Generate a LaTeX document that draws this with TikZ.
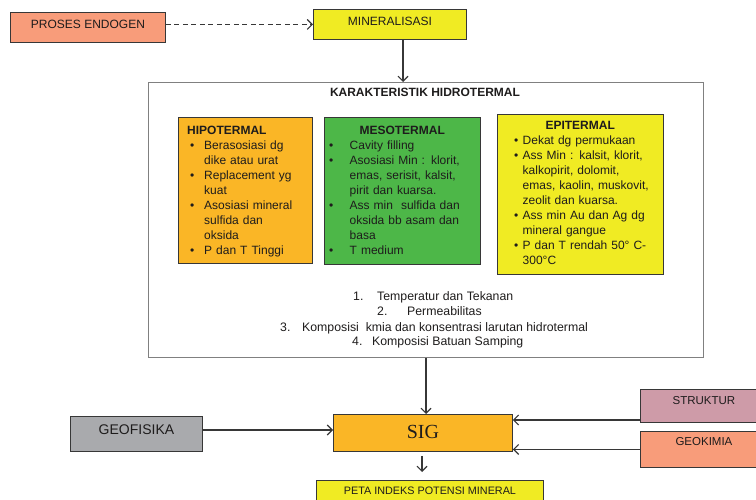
\documentclass[tikz,border=0pt]{standalone}
\usepackage{fontspec}
\setmainfont{Liberation Sans}
\newfontfamily\sigfont{Liberation Serif}
\usetikzlibrary{arrows.meta}
\definecolor{salmon}{RGB}{248,156,122}
\definecolor{yel}{RGB}{240,235,35}
\definecolor{orng}{RGB}{250,182,38}
\definecolor{grn}{RGB}{77,183,72}
\definecolor{pnk}{RGB}{206,155,168}
\definecolor{gry}{RGB}{169,170,173}
\definecolor{edge}{RGB}{55,55,55}
\definecolor{ink}{RGB}{30,28,28}
\newlength\bpos \newlength\tpos
\newcommand\bit[1]{\par\hangindent=\tpos\hangafter=1\noindent\makebox[\tpos][l]{\hspace{\bpos}\textbullet}#1}
\tikzset{
  box/.style={draw=edge, line width=0.9pt, anchor=north west, inner sep=0pt, text=ink},
  arr/.style={draw=edge, line width=1.1pt, -{Straight Barb[length=5pt,width=10pt]}},
  bodytext/.style={anchor=base west, inner sep=0pt, text width=#1, text=ink, font=\fontsize{12}{14.9}\selectfont},
  listline/.style={anchor=base west, inner sep=0pt, text=ink, font=\fontsize{12.3}{14}\selectfont},
}
\begin{document}
\begin{tikzpicture}[x=1pt,y=-1pt]
\useasboundingbox (0,0) rectangle (756,500);
% top row
\node[box, fill=salmon, minimum width=155pt, minimum height=30pt, text height=9pt, text depth=7pt, font=\fontsize{12}{14}\selectfont] (pe) at (10,12) {PROSES ENDOGEN};
\node[box, fill=yel, minimum width=153pt, minimum height=30pt, text height=9pt, text depth=7pt, font=\fontsize{12}{14}\selectfont] (min) at (313,9) {MINERALISASI};
% big box
\node[draw=gray, line width=0.8pt, anchor=north west, minimum width=555pt, minimum height=275pt, inner sep=0pt] (big) at (148,82) {};
\node[anchor=base, inner sep=0pt, text=ink, font=\bfseries\fontsize{12}{14}\selectfont] (title) at (425,97) {KARAKTERISTIK HIDROTERMAL};
% three boxes
\node[box, fill=orng, minimum width=134pt, minimum height=146pt] (hipo) at (178,117) {};
\node[box, fill=grn, minimum width=156pt, minimum height=147pt] (meso) at (324,117) {};
\node[box, fill=yel, minimum width=166pt, minimum height=160pt] (epi) at (497,114) {};
\node[bodytext=200pt] (hipot) at (187,135) {\setlength\bpos{3pt}\setlength\tpos{17pt}\noindent\textbf{HIPOTERMAL}\bit{Berasosiasi dg\newline dike atau urat}\bit{Replacement yg\newline kuat}\bit{Asosiasi mineral\newline sulfida dan\newline oksida}\bit{P dan T Tinggi}\par};
\node[bodytext=145pt] (mesot) at (326,135) {\setlength\bpos{3pt}\setlength\tpos{23.5pt}\noindent\rlap{\makebox[152pt][c]{\textbf{MESOTERMAL}}}\bit{Cavity filling}\bit{Asosiasi Min : klorit,\linebreak emas, serisit, kalsit,\linebreak pirit dan kuarsa.}\bit{Ass min\ \ sulfida dan\newline oksida bb asam dan\newline basa}\bit{T medium}\par};
\node[bodytext=200pt] (epit) at (499,130) {\setlength\bpos{15pt}\setlength\tpos{23.5pt}\noindent\makebox[162pt][c]{\textbf{EPITERMAL}}\bit{Dekat dg permukaan}\bit{Ass Min\ : kalsit, klorit,\newline kalkopirit, dolomit,\newline emas, kaolin, muskovit,\newline zeolit dan kuarsa.}\bit{Ass min Au dan Ag dg\newline mineral gangue}\bit{P dan T rendah 50° C-\newline 300°C}\par};
% numbered list
\node[listline] (n1) at (353,301) {\makebox[24pt][l]{1.}Temperatur dan Tekanan};
\node[listline] (n2) at (377,316) {\makebox[30pt][l]{2.}Permeabilitas};
\node[listline] (n3) at (280,331) {\makebox[22pt][l]{3.}Komposisi\ \ kmia dan konsentrasi larutan hidrotermal};
\node[listline] (n4) at (352,345) {\makebox[20pt][l]{4.}Komposisi Batuan Samping};
% bottom row
\node[box, fill=orng, minimum width=179pt, minimum height=37pt, text height=14pt, text depth=3pt, font=\sigfont\fontsize{20}{22}\selectfont] (sig) at (333,414) {SIG};
\node[box, fill=gry, minimum width=132pt, minimum height=35pt, text height=10pt, text depth=9pt, font=\fontsize{14}{16}\selectfont] (geof) at (70,416) {GEOFISIKA};
\node[box, fill=pnk, minimum width=127pt, minimum height=33pt, text height=9pt, text depth=12pt, font=\fontsize{11.5}{13}\selectfont] (struk) at (640,389) {STRUKTUR};
\node[box, fill=salmon, minimum width=127pt, minimum height=36pt, text height=9pt, text depth=17pt, font=\fontsize{11.5}{13}\selectfont] (geok) at (640,431) {GEOKIMIA};
\node[box, fill=yel, minimum width=227pt, minimum height=32pt, text height=8pt, text depth=12pt, font=\fontsize{10.8}{12}\selectfont] (peta) at (316,480) {PETA INDEKS POTENSI MINERAL};
% connectors
\draw[arr, dash pattern=on 5pt off 3.5pt] (pe.east |- min.west) -- (min.west);
\draw[arr] (min.south -| 403,0) -- (big.north -| 403,0);
\draw[arr] (big.south -| 426,0) -- (sig.north -| 426,0);
\draw[arr] (geof.east |- 0,430) -- (sig.west |- 0,430);
\draw[arr] (struk.west |- 0,420) -- (sig.east |- 0,420);
\draw[arr] (geok.west) -- (sig.east |- geok.west);
\draw[arr] ([yshift=-4pt]sig.south -| 422,0) -- ([yshift=8pt]peta.north -| 422,0);
\end{tikzpicture}
\end{document}
